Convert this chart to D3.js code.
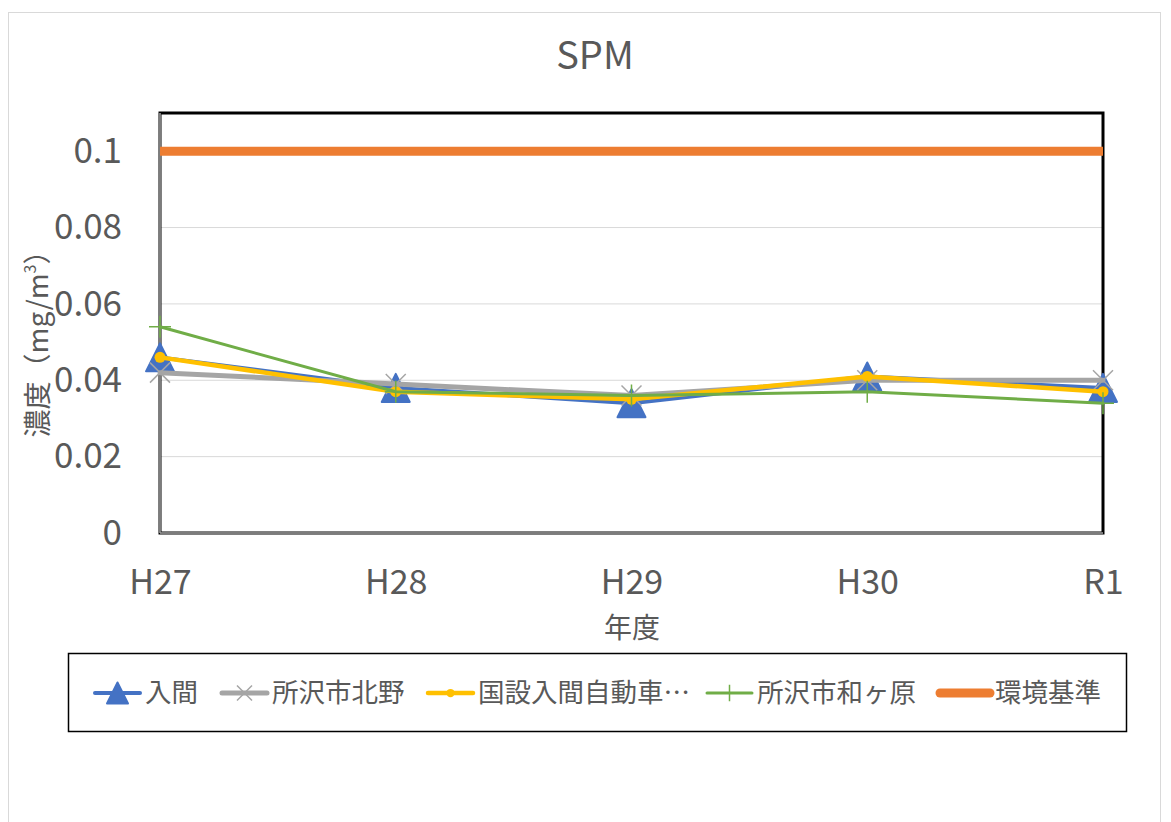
<!DOCTYPE html>
<html>
<head>
<meta charset="utf-8">
<script src="https://cdn.jsdelivr.net/npm/d3@7"></script>
<style>
  body { margin: 0; background: #fff; }
  text { font-family: "Noto Sans CJK JP", "Noto Sans", sans-serif; fill: #595959; }
</style>
</head>
<body>
<div id="chart"></div>
<script>
// data
const years = ["H27", "H28", "H29", "H30", "R1"];
const seriesNames = ["入間", "所沢市北野", "国設入間自動車…", "所沢市和ヶ原", "環境基準"];
const iruma = [0.046, 0.038, 0.034, 0.041, 0.038];
const kitano = [0.042, 0.039, 0.036, 0.040, 0.040];
const kokusetsu = [0.046, 0.037, 0.035, 0.041, 0.037];
const wagahara = [0.054, 0.037, 0.036, 0.037, 0.034];
const standard = [0.1, 0.1, 0.1, 0.1, 0.1];
const yTicks = [0, 0.02, 0.04, 0.06, 0.08, 0.1];

const W = 1171, H = 822;
const margin = {top: 113, right: 68, bottom: 289, left: 160};

let svg = d3.select("#chart").append("svg")
    .attr("width", W)
    .attr("height", H);

// outer chart frame
svg.append("rect")
    .attr("x", 8.5).attr("y", 12.5)
    .attr("width", 1152).attr("height", 840)
    .attr("fill", "none")
    .attr("stroke", "#d9d9d9");

let x = d3.scalePoint()
    .domain(years)
    .range([margin.left, W - margin.right]);

let y = d3.scaleLinear()
    .domain([0, 0.11])
    .range([H - margin.bottom, margin.top]);

// gridlines
svg.append("g")
    .selectAll("line")
    .data(yTicks.slice(1))
    .enter().append("line")
    .attr("x1", margin.left).attr("x2", W - margin.right)
    .attr("y1", d => y(d)).attr("y2", d => y(d))
    .attr("stroke", "#d9d9d9")
    .attr("stroke-width", 1);

// plot border
svg.append("rect")
    .attr("x", margin.left).attr("y", margin.top)
    .attr("width", W - margin.right - margin.left)
    .attr("height", H - margin.bottom - margin.top)
    .attr("fill", "none")
    .attr("stroke", "#000")
    .attr("stroke-width", 3);

// axis lines (gray inside the black frame)
svg.append("line")
    .attr("x1", margin.left).attr("x2", margin.left)
    .attr("y1", margin.top).attr("y2", H - margin.bottom)
    .attr("stroke", "#a6a6a6").attr("stroke-width", 1.5);
svg.append("line")
    .attr("x1", margin.left).attr("x2", W - margin.right)
    .attr("y1", H - margin.bottom).attr("y2", H - margin.bottom)
    .attr("stroke", "#a6a6a6").attr("stroke-width", 1.5);

// y axis
let yAxis = d3.axisLeft(y)
    .tickValues(yTicks)
    .tickSize(0)
    .tickPadding(38)
    .tickFormat(d => d === 0 ? "0" : String(+d.toFixed(2)));
let gy = svg.append("g")
    .attr("transform", `translate(${margin.left},0)`)
    .call(yAxis);
gy.select(".domain").remove();
gy.selectAll("text")
    .style("font-size", "35px")
    .attr("fill", "#595959");

// x axis
let xAxis = d3.axisBottom(x).tickSize(0).tickPadding(37);
let gx = svg.append("g")
    .attr("transform", `translate(0,${H - margin.bottom})`)
    .call(xAxis);
gx.select(".domain").remove();
gx.selectAll("text")
    .style("font-size", "34px")
    .attr("fill", "#595959");

// title and axis titles
svg.append("text")
    .attr("x", 595).attr("y", 69)
    .attr("text-anchor", "middle")
    .style("font-size", "38px")
    .text("SPM");

svg.append("text")
    .attr("x", 632).attr("y", 638)
    .attr("text-anchor", "middle")
    .style("font-size", "28px")
    .text("年度");

let yTitle = svg.append("text")
    .attr("transform", "translate(48,337) rotate(-90)")
    .attr("text-anchor", "middle")
    .style("font-size", "28px");
yTitle.append("tspan").text("濃度（mg/m");
yTitle.append("tspan").attr("dy", -12).style("font-size", "16px").text("3");
yTitle.append("tspan").attr("dy", 12).text("）");

// series definitions
const series = [
    {name: seriesNames[0], values: iruma, color: "#4472C4", width: 4, marker: "triangle"},
    {name: seriesNames[1], values: kitano, color: "#A5A5A5", width: 5, marker: "x"},
    {name: seriesNames[2], values: kokusetsu, color: "#FFC000", width: 4.5, marker: "circle"},
    {name: seriesNames[3], values: wagahara, color: "#70AD47", width: 3, marker: "plus"},
    {name: seriesNames[4], values: standard, color: "#ED7D31", width: 9, marker: "none"}
];

let line = d3.line()
    .x((d, i) => x(years[i]))
    .y(d => y(d));

function drawMarker(g, type, color, cx, cy, scale) {
    scale = scale || 1;
    if (type === "triangle") {
        let s = 14 * scale;
        g.append("path")
            .attr("d", `M${cx},${cy - s} L${cx + s},${cy + s} L${cx - s},${cy + s} Z`)
            .attr("fill", color)
            .attr("stroke", color)
            .attr("stroke-width", 2)
            .attr("stroke-linejoin", "round");
    } else if (type === "x") {
        let s = 10 * scale;
        g.append("path")
            .attr("d", `M${cx - s},${cy - s} L${cx + s},${cy + s} M${cx - s},${cy + s} L${cx + s},${cy - s}`)
            .attr("stroke", color)
            .attr("stroke-width", 1.5);
    } else if (type === "circle") {
        g.append("circle")
            .attr("cx", cx).attr("cy", cy)
            .attr("r", 5.5 * scale)
            .attr("fill", color);
    } else if (type === "plus") {
        let s = 11 * scale;
        g.append("path")
            .attr("d", `M${cx},${cy - s} L${cx},${cy + s} M${cx - s},${cy} L${cx + s},${cy}`)
            .attr("stroke", color)
            .attr("stroke-width", 1.5);
    }
}

series.forEach(function (s) {
    let g = svg.append("g");
    g.append("path")
        .datum(s.values)
        .attr("d", line)
        .attr("fill", "none")
        .attr("stroke", s.color)
        .attr("stroke-width", s.width)
        .attr("stroke-linejoin", "round")
        .attr("stroke-linecap", s.marker === "none" ? "butt" : "round");
    s.values.forEach(function (v, i) {
        drawMarker(g, s.marker, s.color, x(years[i]), y(v));
    });
});

// legend
svg.append("rect")
    .attr("x", 68.5).attr("y", 653.5)
    .attr("width", 1058).attr("height", 78)
    .attr("fill", "none")
    .attr("stroke", "#000")
    .attr("stroke-width", 1.5);

const legendX = [95, 222, 428, 707, 940];
const legendLen = [45, 45, 45, 45, 50];
series.forEach(function (s, i) {
    let g = svg.append("g");
    let ly = 693;
    g.append("line")
        .attr("x1", legendX[i]).attr("x2", legendX[i] + legendLen[i])
        .attr("y1", ly).attr("y2", ly)
        .attr("stroke", s.color)
        .attr("stroke-width", s.width)
        .attr("stroke-linecap", "round");
    drawMarker(g, s.marker, s.color, legendX[i] + legendLen[i] / 2, ly, 0.75);
    g.append("text")
        .attr("x", legendX[i] + legendLen[i] + 5)
        .attr("y", ly)
        .attr("dy", "0.35em")
        .style("font-size", "26.5px")
        .text(s.name);
});
</script>
</body>
</html>
